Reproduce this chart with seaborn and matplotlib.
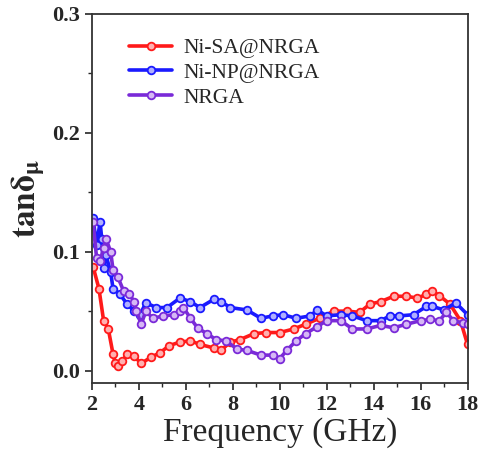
import pandas as pd
import matplotlib
matplotlib.use('Agg')
import matplotlib.pyplot as plt
import seaborn as sns
from matplotlib.ticker import MultipleLocator

# data (frequency in GHz, tan delta_mu)
red_f = [2.05, 2.3, 2.5, 2.7, 2.9, 3.0, 3.1, 3.3, 3.5, 3.8, 4.1, 4.5, 4.9, 5.3, 5.75, 6.2, 6.6, 7.2, 7.5, 7.9, 8.3, 8.9, 9.4, 10.0, 10.6, 11.1, 11.7, 12.3, 12.85, 13.4, 13.85, 14.3, 14.85, 15.4, 15.85, 16.25, 16.5, 16.8, 17.25, 17.7, 18.0]
red_v = [0.0875, 0.069, 0.042, 0.035, 0.014, 0.006, 0.004, 0.008, 0.014, 0.012, 0.006, 0.011, 0.015, 0.021, 0.024, 0.025, 0.022, 0.019, 0.017, 0.024, 0.026, 0.031, 0.032, 0.032, 0.035, 0.039, 0.044, 0.050, 0.050, 0.049, 0.056, 0.058, 0.0625, 0.0625, 0.061, 0.064, 0.067, 0.063, 0.056, 0.042, 0.022]

blue_f = [2.05, 2.2, 2.35, 2.42, 2.5, 2.6, 2.8, 2.9, 3.2, 3.5, 3.8, 4.05, 4.3, 4.75, 5.2, 5.75, 6.2, 6.6, 7.2, 7.5, 7.9, 8.6, 9.2, 9.7, 10.15, 10.7, 11.3, 11.6, 12.0, 12.6, 13.1, 13.7, 14.3, 14.7, 15.1, 15.7, 16.25, 16.5, 17.0, 17.5, 18.0]
blue_v = [0.128, 0.106, 0.125, 0.111, 0.086, 0.097, 0.083, 0.069, 0.064, 0.056, 0.050, 0.047, 0.057, 0.053, 0.053, 0.061, 0.058, 0.053, 0.060, 0.058, 0.053, 0.051, 0.044, 0.046, 0.047, 0.044, 0.046, 0.051, 0.046, 0.047, 0.046, 0.042, 0.042, 0.046, 0.046, 0.047, 0.054, 0.054, 0.051, 0.057, 0.047]

purple_f = [2.05, 2.2, 2.35, 2.5, 2.6, 2.8, 2.9, 3.1, 3.35, 3.6, 3.8, 3.9, 4.1, 4.3, 4.6, 5.05, 5.5, 5.75, 5.9, 6.2, 6.5, 6.9, 7.3, 7.7, 8.2, 8.6, 9.2, 9.7, 10.0, 10.3, 10.7, 11.1, 11.6, 12.0, 12.6, 13.1, 13.7, 14.3, 14.85, 15.4, 16.0, 16.4, 16.8, 17.1, 17.4, 17.8, 18.0]
purple_v = [0.125, 0.095, 0.092, 0.103, 0.111, 0.100, 0.085, 0.079, 0.067, 0.064, 0.058, 0.050, 0.039, 0.050, 0.044, 0.046, 0.047, 0.050, 0.053, 0.044, 0.036, 0.031, 0.026, 0.025, 0.018, 0.017, 0.013, 0.013, 0.010, 0.017, 0.025, 0.031, 0.037, 0.042, 0.042, 0.035, 0.035, 0.038, 0.036, 0.039, 0.042, 0.043, 0.042, 0.049, 0.042, 0.040, 0.039]

labels = ['Ni-SA@NRGA', 'Ni-NP@NRGA', 'NRGA']
colors = ['#ff1a1a', '#1a1aff', '#7a2ad8']
face = ['#ffb0b0', '#b0b0ff', '#d6b8f5']

df = pd.concat([
    pd.DataFrame({'freq': red_f, 'tan': red_v, 'sample': labels[0]}),
    pd.DataFrame({'freq': blue_f, 'tan': blue_v, 'sample': labels[1]}),
    pd.DataFrame({'freq': purple_f, 'tan': purple_v, 'sample': labels[2]}),
])

sns.set_style('ticks')
plt.rcParams['font.family'] = ['Liberation Serif', 'DejaVu Serif']
plt.rcParams['mathtext.fontset'] = 'stix'

fig = plt.figure(figsize=(4.81, 4.66), dpi=100)
ax = fig.add_axes([0.191, 0.178, 0.781, 0.792])

for lab, c, fc in zip(labels, colors, face):
    sns.lineplot(data=df[df['sample'] == lab], x='freq', y='tan', color=c, label=lab,
                 marker='o', markersize=5.5, markerfacecolor=fc, markeredgecolor=c,
                 markeredgewidth=1.3, linewidth=2.6, sort=False, estimator=None, ax=ax)

ax.set_xlim(2, 18)
ax.set_ylim(-0.0105, 0.3)
ax.xaxis.set_major_locator(MultipleLocator(2))
ax.xaxis.set_minor_locator(MultipleLocator(1))
ax.yaxis.set_major_locator(MultipleLocator(0.1))
ax.yaxis.set_minor_locator(MultipleLocator(0.05))
ax.yaxis.set_major_formatter(matplotlib.ticker.FormatStrFormatter('%.1f'))
ax.tick_params(which='major', direction='out', length=5, width=1.2, labelsize=16)
ax.tick_params(which='minor', direction='out', length=3, width=1.0)
for lbl in ax.get_xticklabels() + ax.get_yticklabels():
    lbl.set_fontweight('bold')
for s in ax.spines.values():
    s.set_linewidth(1.3)
    s.set_color('#333333')

ax.set_xlabel('Frequency (GHz)', fontsize=24, labelpad=2)
ax.set_ylabel(r'$\mathbf{tan\delta_{\mu}}$', fontsize=24, labelpad=4)

ax.legend(loc='upper left', bbox_to_anchor=(0.065, 0.97), frameon=False, fontsize=15.5,
          handlelength=2.0, handletextpad=0.5, labelspacing=0.22, borderaxespad=0.2)

fig.savefig('out.png', dpi=100)
